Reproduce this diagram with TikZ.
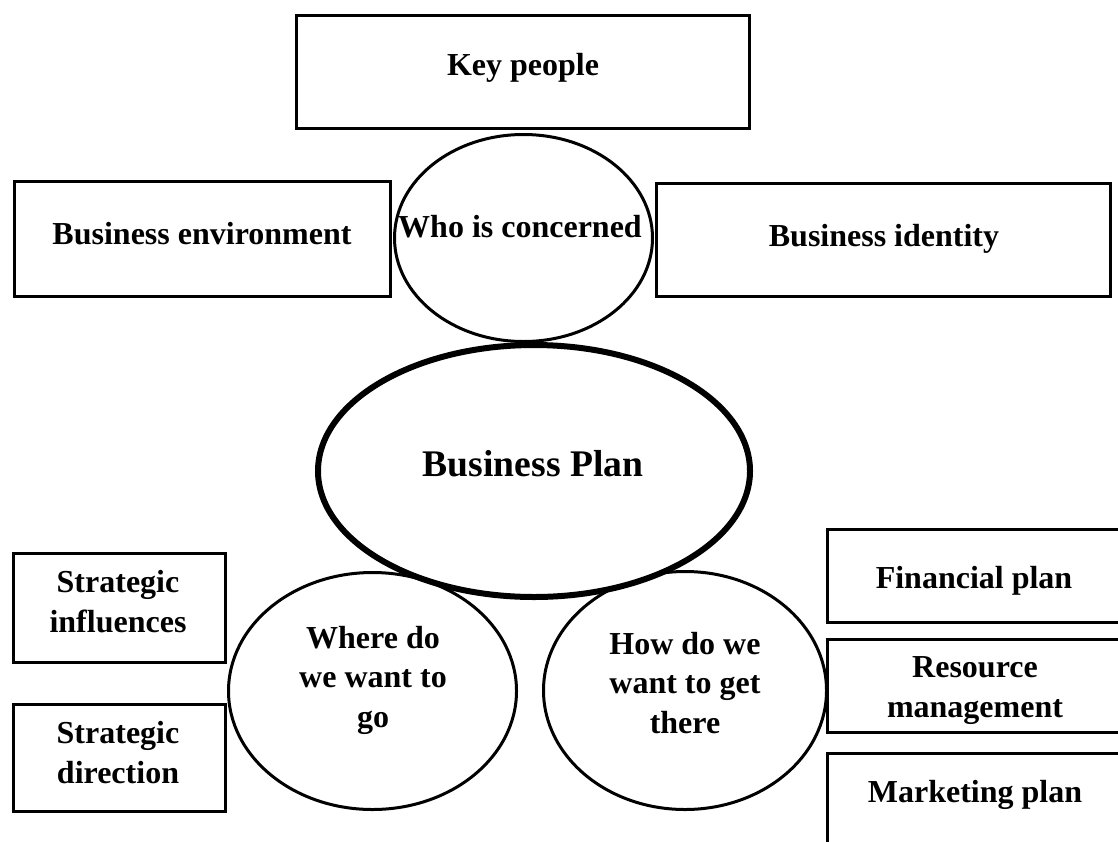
\documentclass[tikz,border=0pt]{standalone}
\usepackage{fontspec}
\setmainfont{Liberation Serif}
\usetikzlibrary{shapes.geometric}
\begin{document}
\begin{tikzpicture}[x=0.5pt,y=-0.5pt,
  boxst/.style={draw=black, line width=1.5pt, rectangle, inner sep=0pt, fill=white},
  ellst/.style={draw=black, line width=1.5pt, ellipse, inner sep=0pt, fill=white},
  bigell/.style={draw=black, line width=3pt, ellipse, inner sep=0pt, fill=white},
  lbl/.style={font=\fontsize{16pt}{19.75pt}\selectfont\bfseries, inner sep=0pt, align=center, anchor=base},
  biglbl/.style={font=\fontsize{18.8pt}{22pt}\selectfont\bfseries, inner sep=0pt, anchor=base}]
\clip (0,0) rectangle (1118,841);
\fill[white] (0,0) rectangle (1118,841);
% boxes
\node[boxst, minimum width=226.5pt, minimum height=56.5pt] (kp) at (523,72) {};
\node[boxst, minimum width=188pt, minimum height=57.5pt] (env) at (202.5,239) {};
\node[boxst, minimum width=227pt, minimum height=56.5pt] (ident) at (883.5,240) {};
\node[boxst, minimum width=106pt, minimum height=54.5pt] (infl) at (119.5,608) {};
\node[boxst, minimum width=106pt, minimum height=53.5pt] (dir) at (119.5,758) {};
\node[boxst, minimum width=147.5pt, minimum height=46.5pt] (fin) at (975,576) {};
\node[boxst, minimum width=147.5pt, minimum height=46.5pt] (res) at (975,686) {};
\node[boxst, minimum width=147.5pt, minimum height=57.5pt] (mkt) at (975,811) {};
% ellipses
\node[ellst, minimum width=129pt, minimum height=103.5pt] (who) at (523.5,238) {};
\node[ellst, minimum width=144pt, minimum height=118.5pt] (where) at (372.5,691) {};
\node[ellst, minimum width=141.5pt, minimum height=119pt] (how) at (685,690.5) {};
\node[bigell, minimum width=216pt, minimum height=126pt] (bp) at (534,471) {};
% labels
\node[lbl] (kpt) at (523,75) {Key people};
\node[lbl] (envt) at (202,244) {Business environment};
\node[lbl] (identt) at (884,246) {Business identity};
\node[lbl] (whot) at (520,237) {Who is concerned};
\node[biglbl] (bpt) at (533,476) {Business Plan};
\node[lbl] (inflt) at (118,632) {Strategic\\influences};
\node[lbl] (dirt) at (118,783) {Strategic\\direction};
\node[lbl] (fint) at (974,588) {Financial plan};
\node[lbl] (rest) at (975,717) {Resource\\management};
\node[lbl] (mktt) at (975,802) {Marketing plan};
\node[lbl] (wheret) at (373,727) {Where do\\we want to\\go};
\node[lbl] (howt) at (685,733) {How do we\\want to get\\there};
\end{tikzpicture}
\end{document}
